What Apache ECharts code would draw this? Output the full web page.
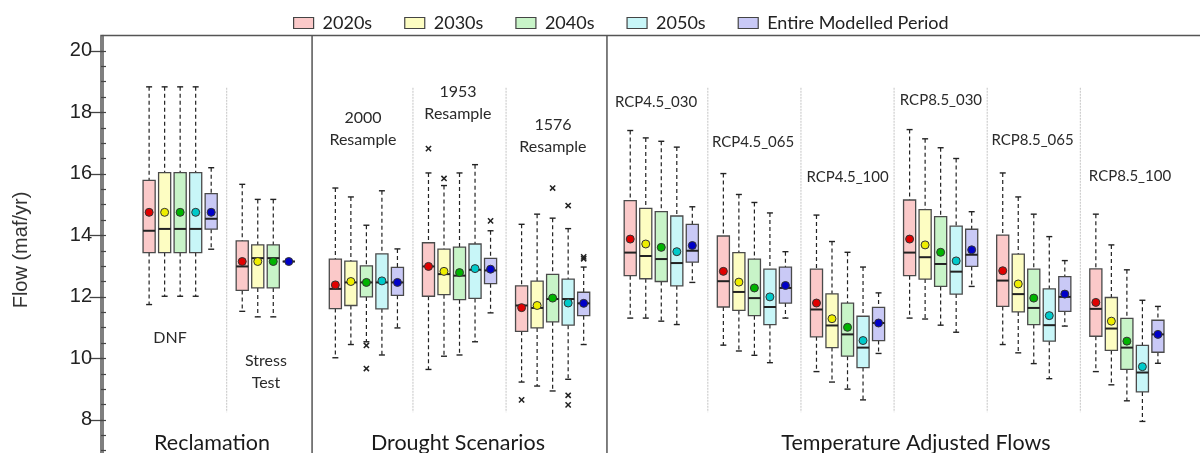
<!DOCTYPE html>
<html><head><meta charset="utf-8">
<script src="https://cdn.jsdelivr.net/npm/echarts@6/dist/echarts.min.js"></script>
<style>html,body{margin:0;padding:0;background:#fff}#c{width:1200px;height:453px}</style>
</head><body><div id="c"></div>
<script>
// ---------------- DATA ----------------
const periods = ['2020s', '2030s', '2040s', '2050s', 'Entire Modelled Period'];
const subgroups = ['DNF', 'Stress\nTest', '2000\nResample', '1953\nResample', '1576\nResample',
  'RCP4.5_030', 'RCP4.5_065', 'RCP4.5_100', 'RCP8.5_030', 'RCP8.5_065', 'RCP8.5_100'];
const groups = ['Reclamation', 'Drought Scenarios', 'Temperature Adjusted Flows'];
const yTickLabels = [8, 10, 12, 14, 16, 18, 20];
const yAxisName = 'Flow (maf/yr)';

// per subgroup: [min, q1, median, q3, max, mean]  (null = not modelled)
const stats2020s = [
  [11.75, 13.44, 14.15, 15.79, 18.83, 14.75],
  [11.53, 12.21, 12.99, 13.82, 15.66, 13.15],
  [10.02, 11.62, 12.26, 13.23, 15.54, 12.39],
  [9.64, 12.02, 12.99, 13.76, 16.03, 12.99],
  [9.23, 10.88, 11.72, 12.36, 14.36, 11.65],
  [11.31, 12.69, 13.44, 15.13, 17.41, 13.88],
  [10.43, 11.67, 12.51, 13.98, 16.01, 12.83],
  [9.57, 10.70, 11.59, 12.90, 14.66, 11.80],
  [11.31, 12.69, 13.44, 15.15, 17.44, 13.88],
  [10.45, 11.69, 12.53, 14.01, 16.03, 12.85],
  [9.57, 10.72, 11.61, 12.91, 14.69, 11.82]
];
const stats2030s = [
  [12.02, 13.44, 14.21, 16.04, 18.83, 14.75],
  [11.35, 12.29, 13.26, 13.69, 15.17, 13.15],
  [10.45, 11.72, 12.47, 13.16, 15.25, 12.50],
  [10.07, 12.07, 12.74, 13.55, 15.62, 12.83],
  [9.10, 10.99, 11.64, 12.51, 14.69, 11.72],
  [11.31, 12.59, 13.33, 14.88, 17.17, 13.72],
  [10.24, 11.56, 12.16, 13.44, 15.33, 12.48],
  [9.23, 10.35, 11.07, 12.10, 13.80, 11.29],
  [11.28, 12.58, 13.29, 14.84, 17.14, 13.69],
  [10.18, 11.51, 12.09, 13.39, 15.25, 12.42],
  [9.14, 10.26, 10.97, 11.98, 13.69, 11.21]
];
const stats2040s = [
  [12.02, 13.44, 14.21, 16.04, 18.83, 14.75],
  [11.35, 12.29, 13.26, 13.69, 15.17, 13.15],
  [10.54, 12.00, 12.47, 13.01, 14.33, 12.47],
  [10.11, 11.91, 12.69, 13.62, 16.03, 12.79],
  [8.94, 11.19, 11.93, 12.73, 14.56, 11.96],
  [11.21, 12.50, 13.23, 14.77, 17.06, 13.61],
  [10.10, 11.39, 11.96, 13.23, 15.07, 12.29],
  [9.00, 10.07, 10.78, 11.80, 13.45, 11.01],
  [11.08, 12.34, 13.07, 14.61, 16.85, 13.45],
  [9.83, 11.10, 11.64, 12.90, 14.69, 11.96],
  [8.62, 9.64, 10.35, 11.30, 12.88, 10.56]
];
const stats2050s = [
  [12.02, 13.44, 14.21, 16.04, 18.83, 14.75],
  null,
  [10.11, 11.61, 12.47, 13.40, 15.45, 12.52],
  [10.54, 11.95, 12.88, 13.72, 16.30, 12.92],
  [9.32, 11.08, 11.93, 12.58, 14.22, 11.80],
  [11.10, 12.36, 13.10, 14.63, 16.87, 13.47],
  [9.86, 11.10, 11.67, 12.90, 14.73, 12.00],
  [8.65, 9.70, 10.35, 11.37, 12.97, 10.58],
  [10.85, 12.09, 12.82, 14.30, 16.50, 13.17],
  [9.34, 10.56, 11.08, 12.26, 13.96, 11.39],
  [7.95, 8.91, 9.54, 10.42, 11.89, 9.73]
];
const statsEntire = [
  [13.55, 14.20, 14.54, 15.36, 16.20, 14.75],
  [13.15, 13.15, 13.15, 13.15, 13.15, 13.15],
  [10.99, 12.05, 12.47, 12.96, 13.56, 12.47],
  [11.48, 12.43, 12.86, 13.25, 14.15, 12.90],
  [10.45, 11.39, 11.79, 12.15, 12.97, 11.79],
  [12.47, 13.13, 13.50, 14.36, 14.93, 13.67],
  [11.31, 11.80, 12.29, 12.97, 13.47, 12.37],
  [10.16, 10.58, 11.15, 11.66, 12.13, 11.15],
  [12.34, 12.99, 13.37, 14.20, 14.77, 13.53],
  [11.05, 11.53, 12.00, 12.66, 13.18, 12.09],
  [9.84, 10.20, 10.78, 11.24, 11.69, 10.78]
];
// outliers: [subgroup index, value]
const out2020s = [[3, 16.82], [4, 8.65]];
const out2030s = [[3, 15.85]];
const out2040s = [[2, 10.42], [2, 9.67], [4, 15.54]];
const out2050s = [[4, 14.97], [4, 8.80], [4, 8.49]];
const outEntire = [[3, 14.47], [4, 13.30], [4, 13.24]];

// ---------------- LAYOUT / STYLE ----------------
const allStats = [stats2020s, stats2030s, stats2040s, stats2050s, statsEntire];
const allOut = [out2020s, out2030s, out2040s, out2050s, outEntire];
const BOX_FILL = ['#fbc9c9', '#fdfdc2', '#c8f4c8', '#c8f6f8', '#c9c9f6'];
const MEAN_FILL = ['#e00000', '#eeee00', '#00b400', '#00caca', '#0000c8'];
const SUB_START = [3, 9, 15, 21, 27, 34, 40, 46, 52, 58, 64];   // slot of first box
const DOTTED_SEP = [8, 20, 26, 39, 45, 51, 57, 63];
const SOLID_SEP = [13.5, 32.5];
const SUB_LABEL_POS = [[4.35, 10.68], [10.53, 9.55], [16.78, 17.48], [22.9, 18.31], [29.02, 17.24],
  [35.66, 18.33], [41.91, 17.03], [48.0, 15.9], [54.02, 18.39], [59.92, 17.11], [66.2, 15.92]];
const SUB_LABEL_SIZE = [16, 16, 16, 16, 16, 15, 15, 15, 15, 15, 15];
const GROUP_LABEL_POS = [[7.05, 7.26], [22.9, 7.26], [52.41, 7.26]];
const TEXT_FONT = 'Lato, "Open Sans", sans-serif';
const AXIS_FONT = '"Liberation Sans", Arial, sans-serif';

function slotOf(si, gi) {
  let off = 0;
  for (let k = 0; k < si; k++) if (allStats[k][gi]) off++;
  return SUB_START[gi] + off;
}

function boxRenderer(si) {
  return function (params, api) {
    const x = api.value(0);
    const y = [1, 2, 3, 4, 5, 6].map(i => api.coord([x, api.value(i)])[1]);
    const cx = api.coord([x, api.value(3)])[0];
    const hw = api.size([0.78, 0])[0] / 2;
    const cap = 3;
    const dash = { stroke: '#222', lineWidth: 1.2, lineDash: [4, 3] };
    const solid = { stroke: '#222', lineWidth: 1.4 };
    return {
      type: 'group', children: [
        { type: 'line', shape: { x1: cx, y1: y[4], x2: cx, y2: y[3] }, style: dash },
        { type: 'line', shape: { x1: cx, y1: y[1], x2: cx, y2: y[0] }, style: dash },
        { type: 'line', shape: { x1: cx - cap, y1: y[4], x2: cx + cap, y2: y[4] }, style: solid },
        { type: 'line', shape: { x1: cx - cap, y1: y[0], x2: cx + cap, y2: y[0] }, style: solid },
        { type: 'rect', shape: { x: cx - hw, y: y[3], width: 2 * hw, height: y[1] - y[3] },
          style: { fill: BOX_FILL[si], stroke: '#4a4a4a', lineWidth: 1.3 } },
        { type: 'line', shape: { x1: cx - hw, y1: y[2], x2: cx + hw, y2: y[2] }, style: { stroke: '#222', lineWidth: 2 } },
        { type: 'circle', shape: { cx: cx, cy: y[5], r: 4 }, style: { fill: MEAN_FILL[si], stroke: '#333', lineWidth: 1 } }
      ]
    };
  };
}

function outlierRenderer(params, api) {
  const p = api.coord([api.value(0), api.value(1)]);
  const s = 2.6;
  const st = { stroke: '#222', lineWidth: 1.5 };
  return {
    type: 'group', children: [
      { type: 'line', shape: { x1: p[0] - s, y1: p[1] - s, x2: p[0] + s, y2: p[1] + s }, style: st },
      { type: 'line', shape: { x1: p[0] - s, y1: p[1] + s, x2: p[0] + s, y2: p[1] - s }, style: st }
    ]
  };
}

const series = [];
periods.forEach((name, si) => {
  const data = [];
  allStats[si].forEach((st, gi) => { if (st) data.push([slotOf(si, gi)].concat(st)); });
  series.push({
    type: 'custom', name: name, data: data, renderItem: boxRenderer(si), z: 3,
    encode: { x: 0, y: [1, 2, 3, 4, 5, 6] },
    itemStyle: { color: BOX_FILL[si], borderColor: '#444', borderWidth: 1 }
  });
  series.push({
    type: 'custom', name: name, z: 4,
    data: allOut[si].map(o => [slotOf(si, o[0]), o[1]]),
    renderItem: outlierRenderer, encode: { x: 0, y: 1 },
    itemStyle: { color: BOX_FILL[si] }
  });
});

// separators
series.push({
  type: 'custom', silent: true, z: 1,
  data: DOTTED_SEP.map(s => [s, 0]).concat(SOLID_SEP.map(s => [s, 1])),
  encode: { x: 0 },
  renderItem: function (params, api) {
    const x = api.value(0), kind = api.value(1);
    const cs = params.coordSys;
    if (kind === 1) {
      const px = api.coord([x, 10])[0];
      return { type: 'line', shape: { x1: px, y1: cs.y, x2: px, y2: cs.y + cs.height }, style: { stroke: '#555', lineWidth: 1.5 } };
    }
    const a = api.coord([x, 18.8]), b = api.coord([x, 8.25]);
    return { type: 'line', shape: { x1: a[0], y1: a[1], x2: b[0], y2: b[1] }, style: { stroke: '#c4c4c4', lineWidth: 1, lineDash: [2, 1] } };
  }
});

// text labels (subgroups + groups)
const textData = subgroups.map((t, i) => [SUB_LABEL_POS[i][0], SUB_LABEL_POS[i][1], i])
  .concat(groups.map((t, i) => [GROUP_LABEL_POS[i][0], GROUP_LABEL_POS[i][1], 100 + i]));
series.push({
  type: 'custom', silent: true, z: 5, data: textData, encode: { x: 0, y: 1 },
  renderItem: function (params, api) {
    const p = api.coord([api.value(0), api.value(1)]);
    const id = api.value(2);
    const isGroup = id >= 100;
    const txt = isGroup ? groups[id - 100] : subgroups[id];
    const fs = isGroup ? 21.5 : SUB_LABEL_SIZE[id];
    return {
      type: 'text', x: p[0], y: p[1],
      style: {
        text: txt, fill: isGroup ? '#1a1a1a' : '#2a2a2a',
        fontSize: fs, fontFamily: TEXT_FONT, lineHeight: isGroup ? fs * 1.2 : 22,
        align: 'center', verticalAlign: 'middle', textAlign: 'center', textVerticalAlign: 'middle'
      }
    };
  }
});

const halfTicks = [];
for (let v = 7; v <= 20; v += 0.5) halfTicks.push(v);

const option = {
  animation: false,
  backgroundColor: '#fff',
  grid: { left: 101, top: 35.5, height: 430.5, right: -2, show: true, borderColor: '#555', borderWidth: 1.5,
          backgroundColor: 'transparent', outerBoundsMode: 'none', containLabel: false },
  legend: {
    data: periods, left: 288, top: 7, icon: 'rect', itemWidth: 20, itemHeight: 11, itemGap: 32,
    itemStyle: { borderColor: '#444', borderWidth: 1.2 },
    textStyle: { fontSize: 18, fontFamily: TEXT_FONT, color: '#222', padding: [0, 0, 0, 4], lineHeight: 22 }
  },
  xAxis: { type: 'value', min: -0.1, max: 70.84, show: false },
  yAxis: [
    {
      type: 'value', min: 6.5, max: 20.5, position: 'left',
      splitLine: { show: false },
      axisLine: { show: true, lineStyle: { color: '#555', width: 1.5 } },
      axisTick: { show: true, customValues: yTickLabels, length: 13, inside: false, lineStyle: { color: '#444', width: 1.3 } },
      axisLabel: { customValues: yTickLabels, fontSize: 20, fontFamily: AXIS_FONT, color: '#222', margin: 9 }
    },
    {
      type: 'value', min: 6.5, max: 20.5, position: 'left',
      splitLine: { show: false },
      axisLine: { show: false },
      axisTick: { show: true, customValues: halfTicks, length: 5, inside: true, lineStyle: { color: '#444', width: 1.2 } },
      axisLabel: { show: false }
    }
  ],
  graphic: [{
    type: 'text', x: 21, y: 250, rotation: Math.PI / 2,
    style: { text: yAxisName, fontSize: 20, fontFamily: AXIS_FONT, fill: '#333', align: 'center', verticalAlign: 'middle', textAlign: 'center', textVerticalAlign: 'middle' }
  }],
  series: series
};

const chart = echarts.init(document.getElementById('c'), null, { renderer: 'canvas' });
chart.setOption(option);
</script>
</body></html>
